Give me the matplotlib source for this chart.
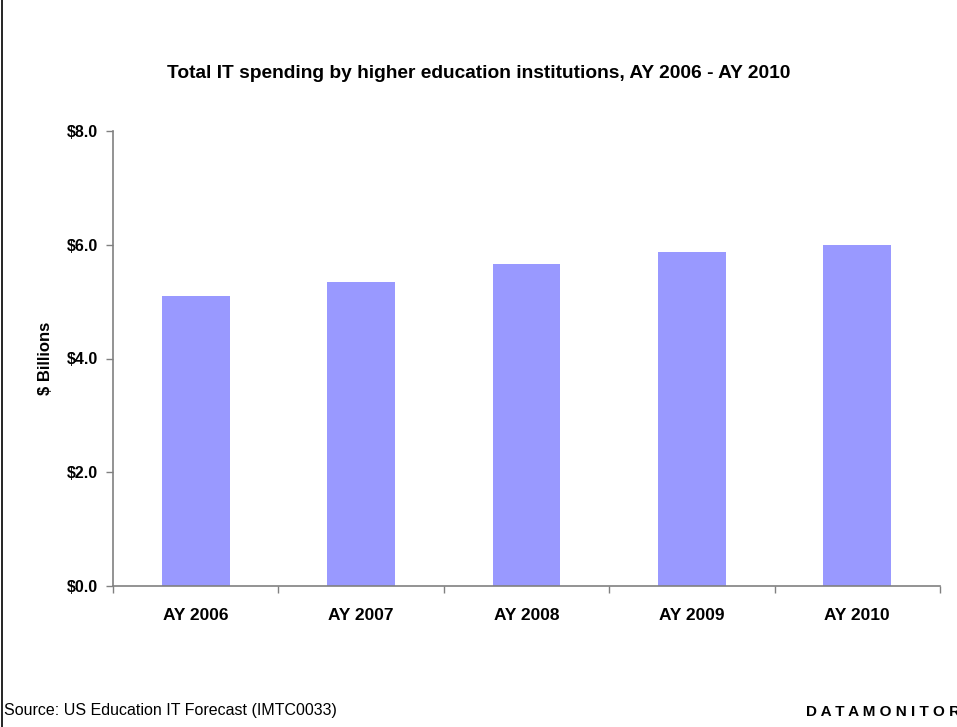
import matplotlib.pyplot as plt
from matplotlib.ticker import FuncFormatter

plt.rcParams['font.family'] = ['Liberation Sans', 'DejaVu Sans']

# academic years and total spending ($ billions)
years = ['AY 2006', 'AY 2007', 'AY 2008', 'AY 2009', 'AY 2010']
spending = [5.10, 5.35, 5.66, 5.87, 6.00]

fig = plt.figure(figsize=(9.57, 7.27), dpi=100)
ax = fig.add_axes([113 / 957, 1 - 586 / 727, (940 - 113) / 957, (586 - 131) / 727])

x = range(len(years))
ax.bar(x, spending, width=0.41, color='#9999ff', zorder=2)

ax.set_xlim(-0.5, len(years) - 0.5)
ax.set_ylim(0, 8)
ax.set_yticks([0, 2, 4, 6, 8])
ax.yaxis.set_major_formatter(FuncFormatter(lambda v, p: '${:.1f}'.format(v)))

# category labels centred, tick marks on the boundaries
ax.set_xticks([i - 0.5 for i in range(len(years) + 1)])
ax.set_xticklabels([])
ax.set_xticks(list(x), minor=True)
ax.set_xticklabels(years, minor=True, fontsize=12.5, fontweight='bold')
ax.tick_params(axis='x', which='minor', length=0, pad=16)
ax.tick_params(axis='x', which='major', length=5, width=1, color='#808080', direction='out')
ax.tick_params(axis='y', length=5, width=1, color='#808080', direction='out', pad=6,
               labelsize=11.5)
for lab in ax.get_yticklabels():
    lab.set_fontweight('bold')

for s in ['top', 'right']:
    ax.spines[s].set_visible(False)
for s in ['left', 'bottom']:
    ax.spines[s].set_color('#808080')
    ax.spines[s].set_linewidth(1.2)

ax.set_ylabel('$ Billions', fontsize=12, fontweight='bold', labelpad=10)

fig.text(0.5, 1 - 73 / 727, 'Total IT spending by higher education institutions, AY 2006 - AY 2010',
         ha='center', va='center', fontsize=13.8, fontweight='bold')
fig.text(4 / 957, 1 - 711 / 727, 'Source: US Education IT Forecast (IMTC0033)',
         ha='left', va='center', fontsize=11.5)
# logo text runs off the right edge of the page
fig.text(806 / 957, 1 - 712 / 727, 'D A T A M O N I T O R', ha='left', va='center',
         fontsize=11, fontweight='bold')

# frame line down the left edge
fig.add_artist(plt.Line2D([1.5 / 957, 1.5 / 957], [0, 1], color='black', lw=1.2,
                          transform=fig.transFigure))

fig.savefig('out.png', dpi=100)
